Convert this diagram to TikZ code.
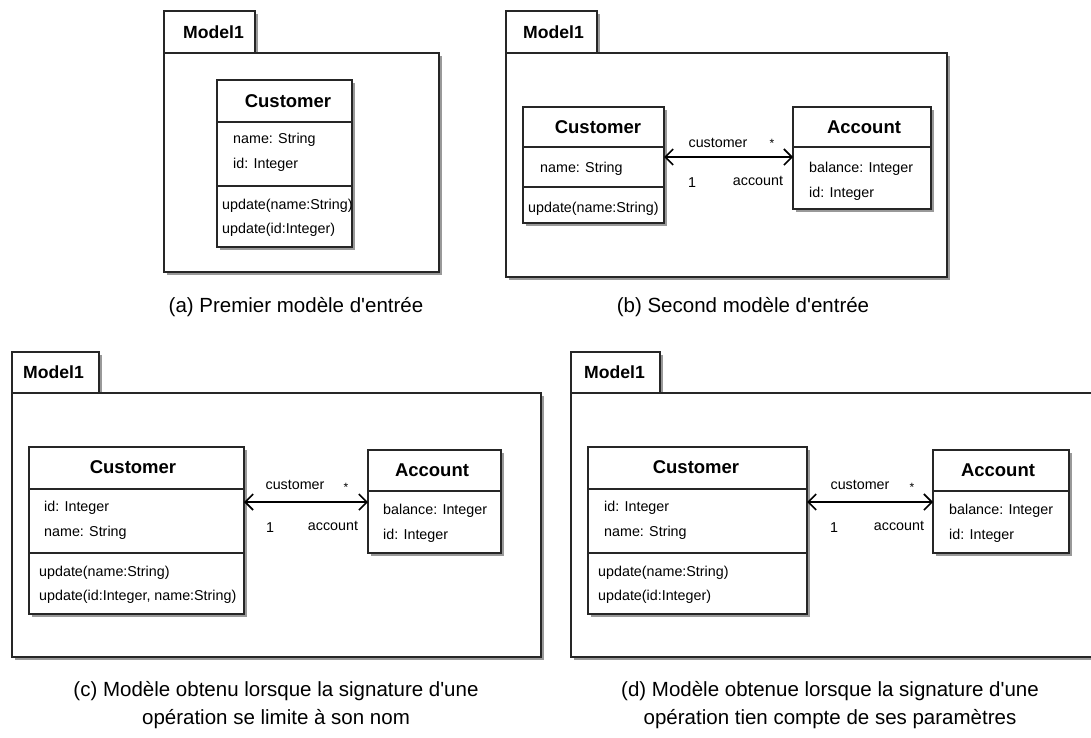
\documentclass[tikz,border=0pt]{standalone}
\usepackage{fontspec}
\setmainfont{Liberation Sans}[Ligatures=TeXOff]
\usetikzlibrary{arrows.meta,shadows,calc}
\tikzset{
 box/.style={draw=black!85, line width=1.4pt, fill=white, inner sep=0pt, outer sep=0pt, anchor=north west,
   drop shadow={shadow xshift=3pt, shadow yshift=-3pt, fill=black!40, opacity=1}},
 ttl/.style={font=\fontsize{18.5}{20}\selectfont\bfseries, anchor=base, inner sep=0pt},
 pkg/.style={font=\fontsize{17.6}{19}\selectfont\bfseries, anchor=base west, inner sep=0pt},
 txt/.style={font=\fontsize{14.3}{16}\selectfont, anchor=base west, inner sep=0pt},
 lbl/.style={font=\fontsize{14.3}{16}\selectfont, anchor=base, inner sep=0pt},
 star/.style={font=\fontsize{12}{14}\selectfont, anchor=center, inner sep=0pt},
 captext/.style={font=\fontsize{20.5}{27}\selectfont, anchor=base, inner sep=0pt},
 assoc/.style={line width=1.6pt, {Straight Barb[length=8pt,width=16pt]}-{Straight Barb[length=8pt,width=16pt]}},
 sep/.style={line width=1.4pt, draw=black!85}
}
\begin{document}
\begin{tikzpicture}[x=1pt,y=-1pt]
\useasboundingbox (0,0) rectangle (1091,737);
% ---------- (a)
\node[box, minimum width=91pt, minimum height=42pt] (tabA) at (164,11) {};
\node[box, minimum width=275pt, minimum height=219pt] (pkgA) at (164,53) {};
\node[pkg] (mA) at (183,38) {Model1};
\node[box, minimum width=135pt, minimum height=167pt] (custA) at (217,80) {};
\draw[sep] (custA.west |- 0,122) -- (custA.east |- 0,122);
\draw[sep] (custA.west |- 0,186) -- (custA.east |- 0,186);
\node[ttl] (custAt) at (288,107) {Customer};
\node[txt] (custAa1) at (233,143.5) {name: String};
\node[txt] (custAa2) at (233,168) {id: Integer};
\node[txt] (custAo1) at (222,209) {update(name:String)};
\node[txt] (custAo2) at (222,233) {update(id:Integer)};
\node[captext] (capA) at (296,312) {(a) Premier modèle d'entrée};
% ---------- (b)
\node[box, minimum width=91pt, minimum height=42pt] (tabB) at (506,11) {};
\node[box, minimum width=441pt, minimum height=224pt] (pkgB) at (506,53) {};
\node[pkg] (mB) at (523,38) {Model1};
\node[box, minimum width=141pt, minimum height=116pt] (custB) at (523,107) {};
\draw[sep] (custB.west |- 0,147) -- (custB.east |- 0,147);
\draw[sep] (custB.west |- 0,187) -- (custB.east |- 0,187);
\node[ttl] (custBt) at (598,133) {Customer};
\node[txt] (custBa1) at (540,172) {name: String};
\node[txt] (custBo1) at (528,212) {update(name:String)};
\node[box, minimum width=138pt, minimum height=102pt] (accB) at (793,107) {};
\draw[sep] (accB.west |- 0,147) -- (accB.east |- 0,147);
\node[ttl] (accBt) at (864,133) {Account};
\node[txt] (accBa1) at (809,172) {balance: Integer};
\node[txt] (accBa2) at (809,197) {id: Integer};
\draw[assoc] (custB.east |- 0,157) -- (accB.west |- 0,157);
\node[lbl] (lBc) at (718,147) {customer};
\node[star] (lBs) at (772,143) {*};
\node[lbl] (lB1) at (692,187) {1};
\node[lbl] (lBa) at (758,185) {account};
\node[captext] (capB) at (743,312) {(b) Second modèle d'entrée};
% ---------- (c)
\node[box, minimum width=87pt, minimum height=41pt] (tabC) at (12,352) {};
\node[box, minimum width=529pt, minimum height=264pt] (pkgC) at (12,393) {};
\node[pkg] (mC) at (23,378) {Model1};
\node[box, minimum width=215pt, minimum height=167pt] (custC) at (29,447) {};
\draw[sep] (custC.west |- 0,489) -- (custC.east |- 0,489);
\draw[sep] (custC.west |- 0,553) -- (custC.east |- 0,553);
\node[ttl] (custCt) at (133,473) {Customer};
\node[txt] (custCa1) at (44,511) {id: Integer};
\node[txt] (custCa2) at (44,536) {name: String};
\node[txt] (custCo1) at (39,576) {update(name:String)};
\node[txt] (custCo2) at (39,600) {update(id:Integer, name:String)};
\node[box, minimum width=133pt, minimum height=103pt] (accC) at (368,450) {};
\draw[sep] (accC.west |- 0,491) -- (accC.east |- 0,491);
\node[ttl] (accCt) at (432,476) {Account};
\node[txt] (accCa1) at (383,514) {balance: Integer};
\node[txt] (accCa2) at (383,539) {id: Integer};
\draw[assoc] (custC.east |- 0,502) -- (accC.west |- 0,502);
\node[lbl] (lCc) at (295,489) {customer};
\node[star] (lCs) at (346,487) {*};
\node[lbl] (lC1) at (270,532) {1};
\node[lbl] (lCa) at (333,530) {account};
\node[captext] (capC1) at (276,696) {(c) Modèle obtenu lorsque la signature d'une};
\node[captext] (capC2) at (276,724) {opération se limite à son nom};
% ---------- (d)
\node[box, minimum width=89pt, minimum height=41pt] (tabD) at (571,352) {};
\node[box, minimum width=526pt, minimum height=264pt] (pkgD) at (571,393) {};
\node[pkg] (mD) at (584,378) {Model1};
\node[box, minimum width=219pt, minimum height=167pt] (custD) at (588,447) {};
\draw[sep] (custD.west |- 0,489) -- (custD.east |- 0,489);
\draw[sep] (custD.west |- 0,553) -- (custD.east |- 0,553);
\node[ttl] (custDt) at (696,473) {Customer};
\node[txt] (custDa1) at (604,511) {id: Integer};
\node[txt] (custDa2) at (604,536) {name: String};
\node[txt] (custDo1) at (598,576) {update(name:String)};
\node[txt] (custDo2) at (598,600) {update(id:Integer)};
\node[box, minimum width=136pt, minimum height=103pt] (accD) at (933,450) {};
\draw[sep] (accD.west |- 0,491) -- (accD.east |- 0,491);
\node[ttl] (accDt) at (998,476) {Account};
\node[txt] (accDa1) at (949,514) {balance: Integer};
\node[txt] (accDa2) at (949,539) {id: Integer};
\draw[assoc] (custD.east |- 0,502) -- (accD.west |- 0,502);
\node[lbl] (lDc) at (860,489) {customer};
\node[star] (lDs) at (912,487) {*};
\node[lbl] (lD1) at (834,532) {1};
\node[lbl] (lDa) at (899,530) {account};
\node[captext] (capD1) at (830,696) {(d) Modèle obtenue lorsque la signature d'une};
\node[captext] (capD2) at (830,724) {opération tien compte de ses paramètres};
\end{tikzpicture}
\end{document}
